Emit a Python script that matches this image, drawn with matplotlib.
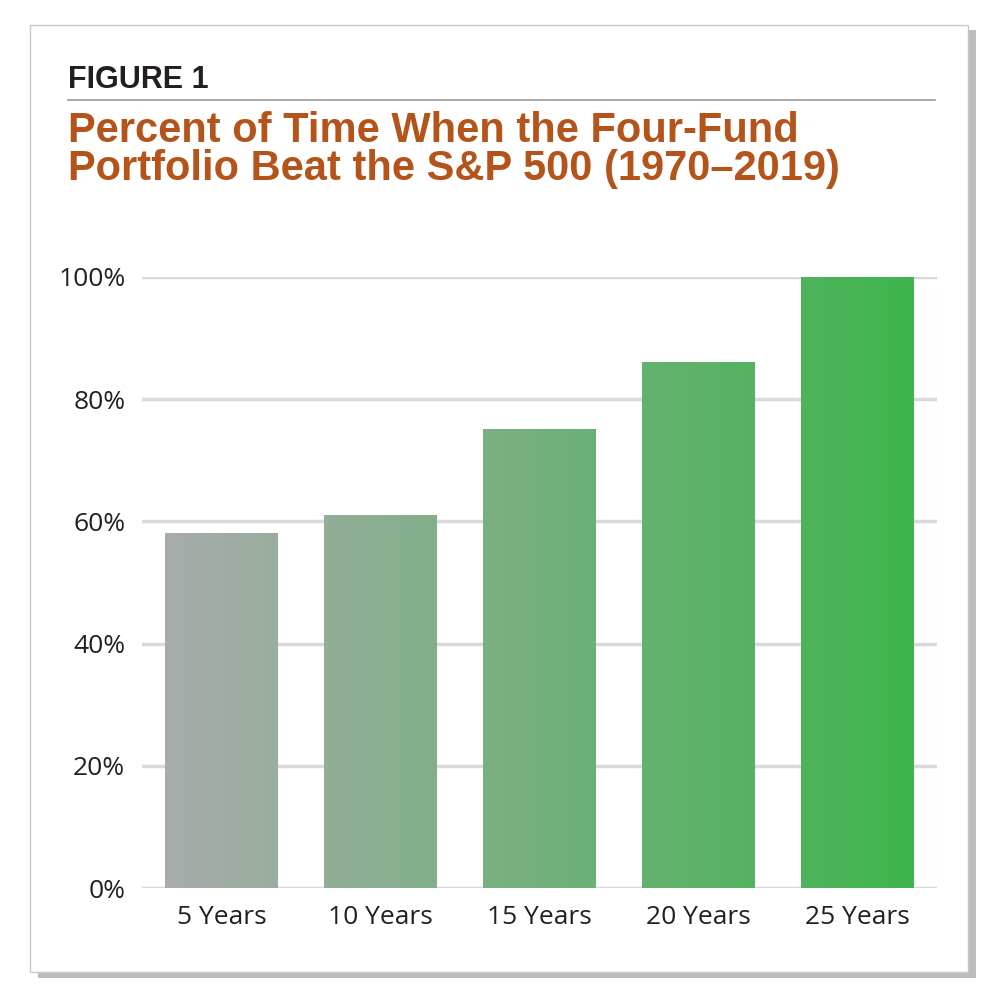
import matplotlib.pyplot as plt
import numpy as np
from matplotlib.patches import Rectangle
from matplotlib.colors import LinearSegmentedColormap

categories = ["5 Years", "10 Years", "15 Years", "20 Years", "25 Years"]
values = [58, 61, 75, 86, 100]
ticks = [0, 20, 40, 60, 80, 100]

fig = plt.figure(figsize=(10, 10), dpi=100)
fig.patch.set_facecolor("white")

# card with shadow
fig.patches.append(Rectangle((0.038, 0.022), 0.938, 0.948, transform=fig.transFigure,
                             facecolor="#bdbdbd", edgecolor="none", zorder=0))
fig.patches.append(Rectangle((0.030, 0.028), 0.938, 0.947, transform=fig.transFigure,
                             facecolor="white", edgecolor="#c8c8c8", lw=1, zorder=1))

fig.text(0.068, 0.920, "FIGURE 1", family="Liberation Sans", weight="bold",
         fontsize=22, color="#231f20", va="center")
fig.add_artist(plt.Line2D([0.068, 0.935], [0.900, 0.900], color="#9a9a9a", lw=1.2))
fig.text(0.068, 0.850, "Percent of Time When the Four-Fund\nPortfolio Beat the S&P 500 (1970\u20132019)",
         family="Liberation Sans", weight="bold", fontsize=30, color="#b5541a",
         va="center", linespacing=0.92)

ax = fig.add_axes([0.142, 0.112, 0.795, 0.611])
ax.set_zorder(3)
ax.set_facecolor("none")
ax.set_xlim(-0.5, 4.5)
ax.set_ylim(0, 100)
for t in ticks:
    ax.axhline(t, color="#d9d9d9", lw=2.5, zorder=1)

cmap = LinearSegmentedColormap.from_list("g", ["#abacae", "#3bb54a"])
width = 0.71
grad = np.linspace(0, 1, 256).reshape(1, -1)
for i, v in enumerate(values):
    x0, x1 = i - width / 2, i + width / 2
    lo, hi = (x0 + 0.5) / 5, (x1 + 0.5) / 5
    ax.imshow(lo + (hi - lo) * grad, cmap=cmap, vmin=0, vmax=1, aspect="auto",
              extent=[x0, x1, 0, v], zorder=2)
ax.set_xlim(-0.5, 4.5)
ax.set_ylim(0, 100)

ax.set_yticks(ticks)
ax.set_yticklabels([f"{t}%" for t in ticks])
ax.set_xticks(range(len(categories)))
ax.set_xticklabels(categories)
ax.tick_params(length=0, labelsize=19, colors="#231f20", pad=12)
for lab in ax.get_xticklabels() + ax.get_yticklabels():
    lab.set_family("Open Sans")
for s in ax.spines.values():
    s.set_visible(False)

fig.savefig("out.png", dpi=100)
